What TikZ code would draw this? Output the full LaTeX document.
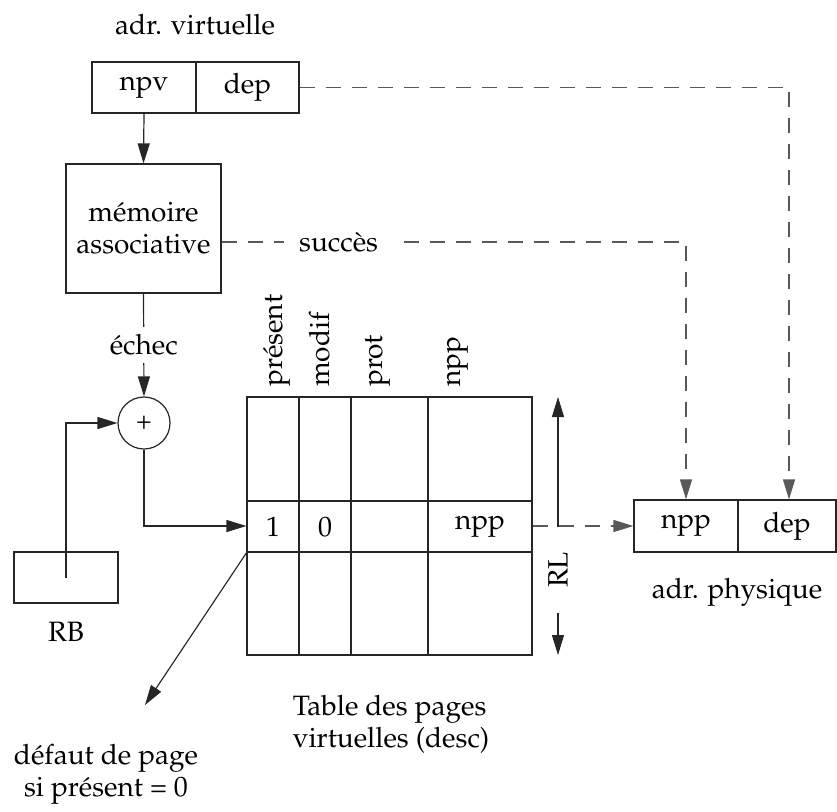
\documentclass[tikz,border=0pt]{standalone}
\usepackage[T1]{fontenc}
\usepackage{mathpazo}
\usetikzlibrary{arrows.meta,calc}
\begin{document}
\begin{tikzpicture}[x=1pt,y=-1pt,
  every node/.style={font=\fontsize{28}{32}\selectfont},
  ln/.style={line width=1.2pt,draw=black!85},
  bx/.style={ln,draw,rectangle,inner sep=0pt},
  dsh/.style={line width=1.2pt,draw=black!65,dash pattern=on 15pt off 11pt},
  arr/.style={-{Triangle[length=20pt,width=12pt]}},
  lbl/.style={inner sep=0pt}]
\useasboundingbox (0,0) rectangle (837,811);
% virtual address
\node[lbl] (adrv) at (195,25) {adr. virtuelle};
\node[bx,minimum width=104pt,minimum height=51pt] (npv) at (144,87.5) {npv};
\node[bx,minimum width=103pt,minimum height=51pt] (dep) at (247.5,87.5) {dep};
% associative memory
\node[bx,minimum width=155pt,minimum height=129pt,align=center] (mem) at (143.5,228.5) {m\'emoire\\associative};
% adder
\node[ln,draw,circle,minimum size=52pt,inner sep=0pt] (circ) at (144,423) {\fontsize{26}{26}\selectfont +};
% RB
\node[bx,minimum width=104pt,minimum height=51pt] (rb) at (66,577.5) {};
\node[lbl] (rbl) at (66,632) {RB};
% table
\node[bx,minimum width=285pt,minimum height=258pt] (tab) at (389.5,526) {};
\draw[ln] (299,397) -- (299,655);
\draw[ln] (351,397) -- (351,655);
\draw[ln] (428,397) -- (428,655);
\draw[ln] (247,501) -- (532,501);
\draw[ln] (247,552) -- (532,552);
\node[lbl] (c1) at (273,527) {1};
\node[lbl] (c2) at (325,527) {0};
\node[lbl] (c4) at (480,527) {npp};
\node[lbl,rotate=90,anchor=base west] (h1) at (282,387) {pr\'esent};
\node[lbl,rotate=90,anchor=base west] (h2) at (329,387) {modif};
\node[lbl,rotate=90,anchor=base west] (h3) at (382,387) {prot};
\node[lbl,rotate=90,anchor=base west] (h4) at (460,387) {npp};
\node[lbl,align=left] (tabl) at (391,724) {Table des pages\\virtuelles (desc)};
% RL
\coordinate (rlmid) at (558,527);
\coordinate (rltop) at (558,397);
\coordinate (rlb1) at (558,613);
\coordinate (rlb2) at (558,655);
\node[lbl,rotate=90] (rl) at (558,570) {RL};
\draw[ln,arr] (rlmid) -- (rltop);
\draw[ln,arr] (rlb1) -- (rlb2);
% physical address
\node[bx,minimum width=104pt,minimum height=52pt] (pnpp) at (686,526) {npp};
\node[bx,minimum width=98pt,minimum height=52pt] (pdep) at (787,526) {dep};
\node[lbl] (adrp) at (737,592) {adr. physique};
% page fault
\coordinate (corner) at (247,552);
\coordinate (fault) at (145,705);
\node[lbl,align=center] (defl) at (106,774) {d\'efaut de page\\si pr\'esent = 0};
% connectors
\draw[ln,arr] (npv.south) -- (mem.north);
\draw[ln,arr] (mem.south) -- node[lbl,fill=white,inner ysep=8pt,pos=0.5] (echec) {\'echec} (circ.north);
\draw[ln,arr] (rb.center) |- (circ.west);
\draw[ln,arr] (circ.south) |- (tab.west);
\draw[ln,arr] (corner) -- (fault);
\draw[dsh,arr] (dep.east) -| ([xshift=2pt]pdep.north);
\draw[dsh,arr] ($(mem.east)+(0,13.5)$) -| node[lbl,fill=white,inner xsep=15pt,pos=0.126] (succ) {succ\`es} (pnpp.north);
\draw[dsh,arr] (tab.east) -- (pnpp.west);
\end{tikzpicture}
\end{document}
